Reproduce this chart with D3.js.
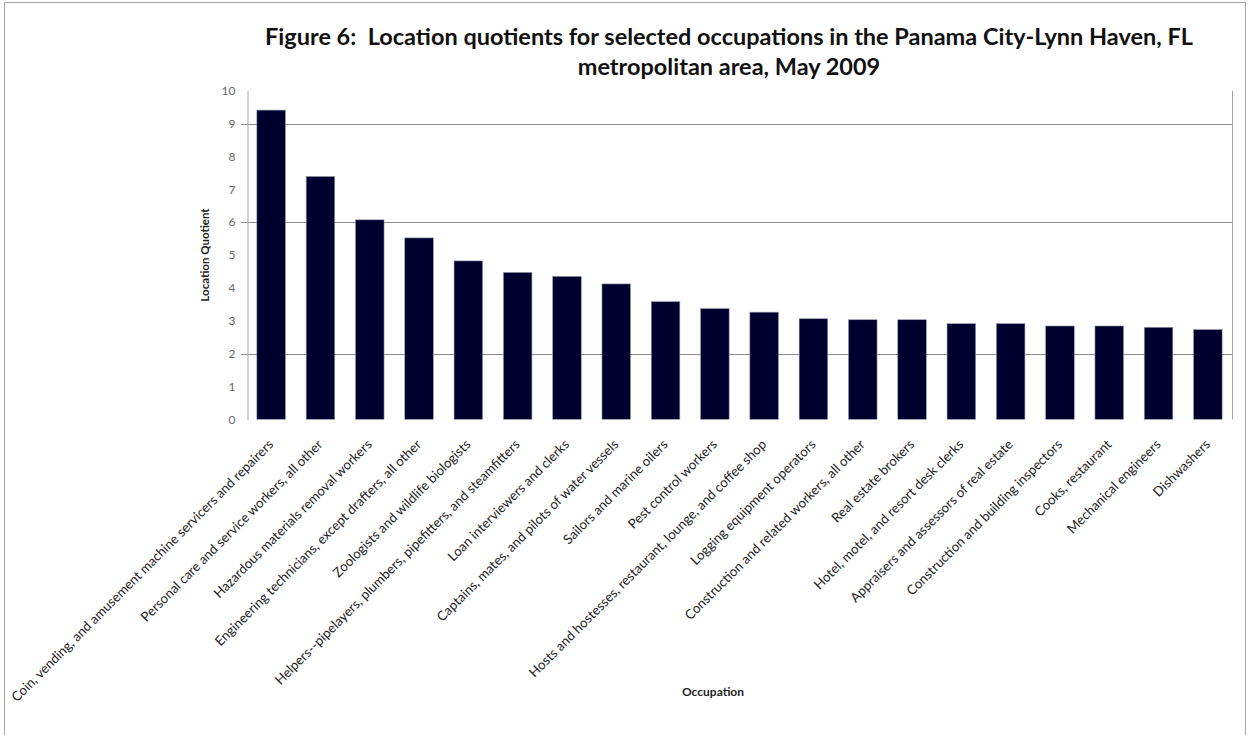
<!DOCTYPE html>
<html>
<head>
<meta charset="utf-8">
<script src="https://cdn.jsdelivr.net/npm/d3@7"></script>
<style>
  body { margin: 0; background: #fff; }
  svg text { font-family: Lato, "Open Sans", sans-serif; }
</style>
</head>
<body>
<svg id="chart" width="1249" height="735"></svg>
<script>
// occupations, in chart order
var occupations = [
  "Coin, vending, and amusement machine servicers and repairers",
  "Personal care and service workers, all other",
  "Hazardous materials removal workers",
  "Engineering technicians, except drafters, all other",
  "Zoologists and wildlife biologists",
  "Helpers--pipelayers, plumbers, pipefitters, and steamfitters",
  "Loan interviewers and clerks",
  "Captains, mates, and pilots of water vessels",
  "Sailors and marine oilers",
  "Pest control workers",
  "Hosts and hostesses, restaurant, lounge, and coffee shop",
  "Logging equipment operators",
  "Construction and related workers, all other",
  "Real estate brokers",
  "Hotel, motel, and resort desk clerks",
  "Appraisers and assessors of real estate",
  "Construction and building inspectors",
  "Cooks, restaurant",
  "Mechanical engineers",
  "Dishwashers"
];
var quotients = [9.41, 7.39, 6.07, 5.52, 4.82, 4.47, 4.35, 4.12, 3.58, 3.37,
                 3.26, 3.06, 3.03, 3.03, 2.91, 2.91, 2.84, 2.84, 2.80, 2.73];
var yTicks = [0, 1, 2, 3, 4, 5, 6, 7, 8, 9, 10];
var gridValues = [2, 6, 9];
var titleLines = [
  "Figure 6:  Location quotients for selected occupations in the Panama City-Lynn Haven, FL",
  "metropolitan area, May 2009"
];

var svg = d3.select("#chart");

// outer frame
svg.append("rect")
  .attr("x", 4.5).attr("y", 2.5)
  .attr("width", 1241).attr("height", 740)
  .attr("fill", "none").attr("stroke", "#a6a6a6").attr("stroke-width", 1);

var plot = {left: 247, right: 1232, top: 90.7, bottom: 419.3};

var x = d3.scaleBand()
  .domain(occupations)
  .range([plot.left, plot.right])
  .paddingInner(0.42)
  .paddingOuter(0.2);

var y = d3.scaleLinear()
  .domain([0, 10])
  .range([plot.bottom, plot.top]);

// gridlines (with small tick stubs left of the axis)
svg.append("g").selectAll("line")
  .data(gridValues)
  .join("line")
  .attr("x1", plot.left - 6).attr("x2", plot.right)
  .attr("y1", d => Math.round(y(d)) + 0.5).attr("y2", d => Math.round(y(d)) + 0.5)
  .attr("stroke", "#8c8c8c").attr("stroke-width", 1);

// right edge of plot area
svg.append("line")
  .attr("x1", plot.right + 0.5).attr("x2", plot.right + 0.5)
  .attr("y1", plot.top).attr("y2", plot.bottom)
  .attr("stroke", "#a6a6a6");

// y axis
var yAxis = svg.append("g")
  .attr("transform", "translate(" + (plot.left + 0.5) + ",0)")
  .call(d3.axisLeft(y).tickValues(yTicks).tickSize(0).tickPadding(12).tickFormat(d3.format("d")));
yAxis.select(".domain").attr("stroke", "#a6a6a6");
yAxis.selectAll("text")
  .attr("fill", "#666")
  .style("font-size", "12px");

svg.append("text")
  .attr("transform", "translate(205," + ((plot.top + plot.bottom) / 2) + ") rotate(-90)")
  .attr("text-anchor", "middle")
  .attr("dy", "0.35em")
  .style("font-size", "11.5px")
  .style("font-weight", "bold")
  .attr("fill", "#222")
  .text("Location Quotient");

// bars
svg.append("g").selectAll("rect")
  .data(quotients)
  .join("rect")
  .attr("x", (d, i) => x(occupations[i]))
  .attr("y", d => y(d))
  .attr("width", x.bandwidth())
  .attr("height", d => y(0) - y(d))
  .attr("fill", "#00002e")
  .attr("stroke", "#9a9ab0")
  .attr("stroke-width", 0.6);

// rotated category labels
var labelG = svg.append("g");
var labels = labelG.selectAll("text")
  .data(occupations)
  .join("text")
  .attr("text-anchor", "end")
  .style("font-size", "11px")
  .attr("fill", "#222")
  .text(d => d);

// scale the labels so the longest one spans the same length as in the figure
var firstLen = labels.node().getComputedTextLength();
var labelSize = 11 * 364 / firstLen;
labels.style("font-size", labelSize.toFixed(2) + "px")
  .attr("transform", d => "translate(" + (x(d) + x.bandwidth() / 2 + 3) + "," + (plot.bottom + 26) + ") rotate(-45)");

svg.append("text")
  .attr("x", 713).attr("y", 696)
  .attr("text-anchor", "middle")
  .style("font-size", "12px")
  .style("font-weight", "bold")
  .attr("fill", "#222")
  .text("Occupation");

// title
var title = svg.append("g").selectAll("text")
  .data(titleLines)
  .join("text")
  .attr("x", 729)
  .attr("y", (d, i) => 45 + i * 30)
  .attr("text-anchor", "middle")
  .style("white-space", "pre")
  .style("font-size", "20px")
  .style("font-weight", "bold")
  .attr("fill", "#111")
  .text(d => d);
var tLen = title.node().getComputedTextLength();
title.style("font-size", (20 * 928 / tLen).toFixed(2) + "px");
</script>
</body>
</html>
